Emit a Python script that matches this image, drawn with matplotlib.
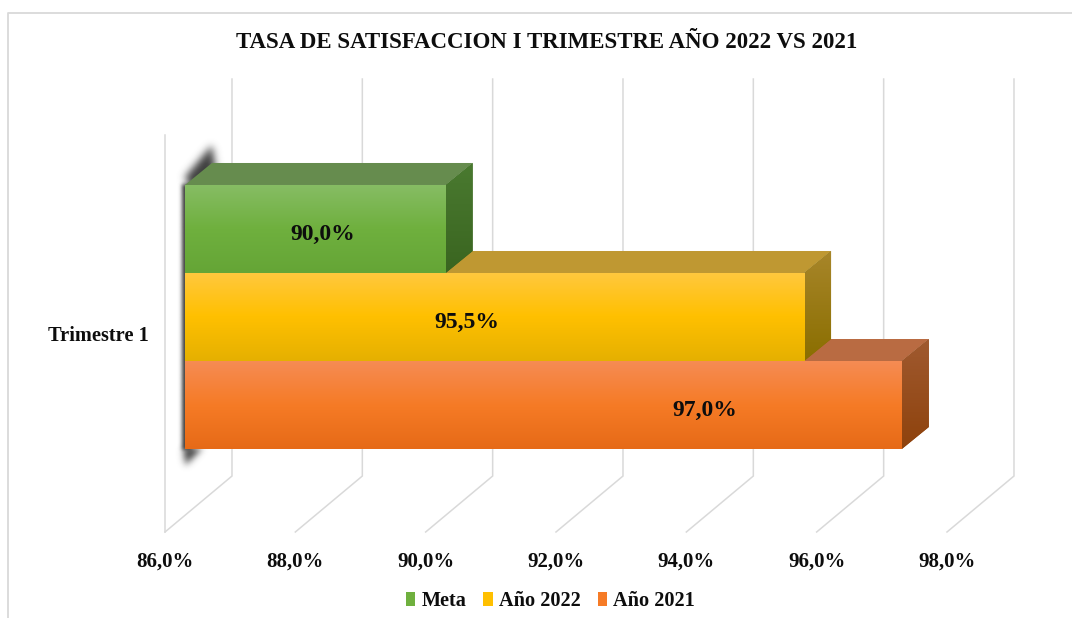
#!/usr/bin/env python3
import numpy as np
import matplotlib
matplotlib.use("Agg")
import matplotlib.pyplot as plt
from matplotlib.colors import LinearSegmentedColormap
from matplotlib.lines import Line2D
from matplotlib.patches import Patch, Polygon
from matplotlib.path import Path

title = "TASA DE SATISFACCION I TRIMESTRE AÑO 2022 VS 2021"
category = "Trimestre 1"
series = ["Meta", "Año 2022", "Año 2021"]
values = [90.0, 95.5, 97.0]
value_labels = ["90,0%", "95,5%", "97,0%"]
x_ticks = [86, 88, 90, 92, 94, 96, 98]
x_tick_labels = ["86,0%", "88,0%", "90,0%", "92,0%", "94,0%", "96,0%", "98,0%"]

### where the labels sit along each bar, they are not centered in the original
label_x = [88.42, 90.63, 94.28]

### Colors: front gradient, top face, side gradient
front_colors = [
    ("#87BD65", "#6FB03E", "#65A536"),
    ("#FFC83F", "#FFC000", "#E5B000"),
    ("#F58C55", "#F67B26", "#E66A17"),
]
top_colors = ["#668C4E", "#BF9832", "#B96B42"]
side_colors = [
    ("#4A7A30", "#3A6520"),
    ("#A8862A", "#8A6E00"),
    ("#A05A30", "#8E420C"),
]
legend_colors = ["#6FB03E", "#FFC000", "#F67B26"]
grid_color = "#D9D9D9"
text_color = "#0D0D0D"

### 3D look, in data units (x: percent, y: bar heights)
bar_shift = (0.307, -0.19)
bar_depth = (0.414, -0.25)
wall_depth = (1.028, -0.636)
y_bottom, y_top = 3.253, -1.258

plt.rcParams["font.family"] = ["Liberation Serif", "DejaVu Serif"]
plt.rcParams["font.weight"] = "bold"

fig = plt.figure(figsize=(10.72, 6.18), dpi=100)
W, H = 1072.0, 618.0
ax = fig.add_axes([165 / W, 1 - 532 / H, 782 / W, 397 / H])
ax.set_xlim(86, 98)
ax.set_ylim(y_bottom, y_top)
for s in ax.spines.values():
    s.set_visible(False)
ax.patch.set_alpha(0)


def gradient(colors, extent, clip, z):
    cmap = LinearSegmentedColormap.from_list("g", colors)
    grad = np.linspace(0, 1, 256).reshape(-1, 1)
    im = ax.imshow(grad, cmap=cmap, extent=extent, aspect="auto", zorder=z,
                   interpolation="bilinear")
    im.set_clip_path(clip)
    im.set_clip_on(True)


def blurred_shadow(px_outline, sigma, strength):
    """Draws a polygon given in pixels as a gaussian blurred dark shadow behind the bars."""
    x_min, x_max, y_min, y_max = 150, 240, 115, 500
    gx, gy = np.meshgrid(np.arange(x_min, x_max) + 0.5, np.arange(y_min, y_max) + 0.5)
    pts = np.column_stack([gx.ravel(), gy.ravel()])
    mask = Path(px_outline).contains_points(pts).reshape(gx.shape).astype(float)
    r = np.arange(-15, 16)
    kernel = np.exp(-r ** 2 / (2.0 * sigma ** 2))
    kernel = kernel / kernel.sum()
    mask = np.apply_along_axis(lambda m: np.convolve(m, kernel, mode="same"), 0, mask)
    mask = np.apply_along_axis(lambda m: np.convolve(m, kernel, mode="same"), 1, mask)
    rgba = np.zeros(mask.shape + (4,))
    rgba[..., :3] = 0.2
    rgba[..., 3] = mask * strength
    extent = (86 + (x_min - 165) / 65.17, 86 + (x_max - 165) / 65.17,
              1 + (y_max - 333.7) / 88, 1 + (y_min - 333.7) / 88)
    im = ax.imshow(rgba, extent=extent, aspect="auto", zorder=2, interpolation="bilinear")
    im.set_clip_on(False)


### frame of the chart, only the top and left sides are in the picture
fig.add_artist(Line2D([8 / W, 8 / W, 1], [0, 1 - 13 / H, 1 - 13 / H], color=grid_color,
                      linewidth=1.3, transform=fig.transFigure))

### grid: floor lines and back wall lines
y_back = y_bottom + wall_depth[1]
y_back_top = y_top + wall_depth[1]
for t in x_ticks:
    bx = t + wall_depth[0]
    ax.plot([t, bx, bx], [y_bottom, y_back, y_back_top], color=grid_color,
            linewidth=1.1, clip_on=False, zorder=1, solid_joinstyle="miter")
ax.plot([86, 86], [y_bottom, y_top], color=grid_color, linewidth=1.1,
        clip_on=False, zorder=1)

### blurred shadow left of the bars
blurred_shadow([(182.5, 185), (192, 185), (192, 450), (182.5, 450)], 2.0, 0.95)
blurred_shadow([(185, 178), (212, 146), (216, 172), (192, 192)], 4.0, 0.95)
blurred_shadow([(184, 448), (202, 448), (185, 466)], 3.5, 0.95)

### bars, drawn from the bottom one up so each front covers the top face below
for i in reversed(range(len(values))):
    left = 86 + bar_shift[0]
    right = values[i] + bar_shift[0]
    y1 = i - 0.5 + bar_shift[1]
    y2 = y1 + 1
    z = 3 + (len(values) - i) * 0.1
    dx, dy = bar_depth

    top = Polygon([(left, y1), (right, y1), (right + dx, y1 + dy), (left + dx, y1 + dy)],
                  closed=True, facecolor=top_colors[i], edgecolor="none", zorder=z,
                  clip_on=False)
    ax.add_patch(top)

    side = Polygon([(right, y1), (right + dx, y1 + dy), (right + dx, y2 + dy), (right, y2)],
                   closed=True, facecolor=side_colors[i][1], edgecolor="none", zorder=z,
                   clip_on=False)
    ax.add_patch(side)
    gradient(side_colors[i], (right, right + dx, y2, y1 + dy), side, z + 0.01)

    bar = ax.barh(y1 + 0.5, values[i] - 86, height=1, left=left, color=legend_colors[i],
                  zorder=z + 0.02)[0]
    gradient(front_colors[i], (left, right, y2, y1), bar, z + 0.03)

    ax.text(label_x[i], y1 + 0.565, value_labels[i], ha="center", va="center",
            fontsize=17, color=text_color, zorder=6)

ax.set_xlim(86, 98)
ax.set_ylim(y_bottom, y_top)

ax.set_xticks(x_ticks)
ax.set_xticklabels(x_tick_labels)
ax.set_yticks([1])
ax.set_yticklabels([category])
ax.tick_params(axis="x", length=0, pad=14, labelsize=15, labelcolor=text_color)
ax.tick_params(axis="y", length=0, pad=12, labelsize=14.7, labelcolor=text_color)

fig.text(547 / W, 1 - 43 / H, title, ha="center", va="center", fontsize=16.5,
         color=text_color)

handles = [Patch(facecolor=c, edgecolor="none", label=s)
           for c, s in zip(legend_colors, series)]
fig.legend(handles=handles, loc="center", bbox_to_anchor=(550.5 / W, 1 - 601 / H), ncol=3,
           frameon=False, fontsize=14.6, handlelength=0.46, handleheight=0.65,
           handletextpad=0.3, columnspacing=0.85, labelcolor=text_color)

fig.savefig("out.png", dpi=100)
